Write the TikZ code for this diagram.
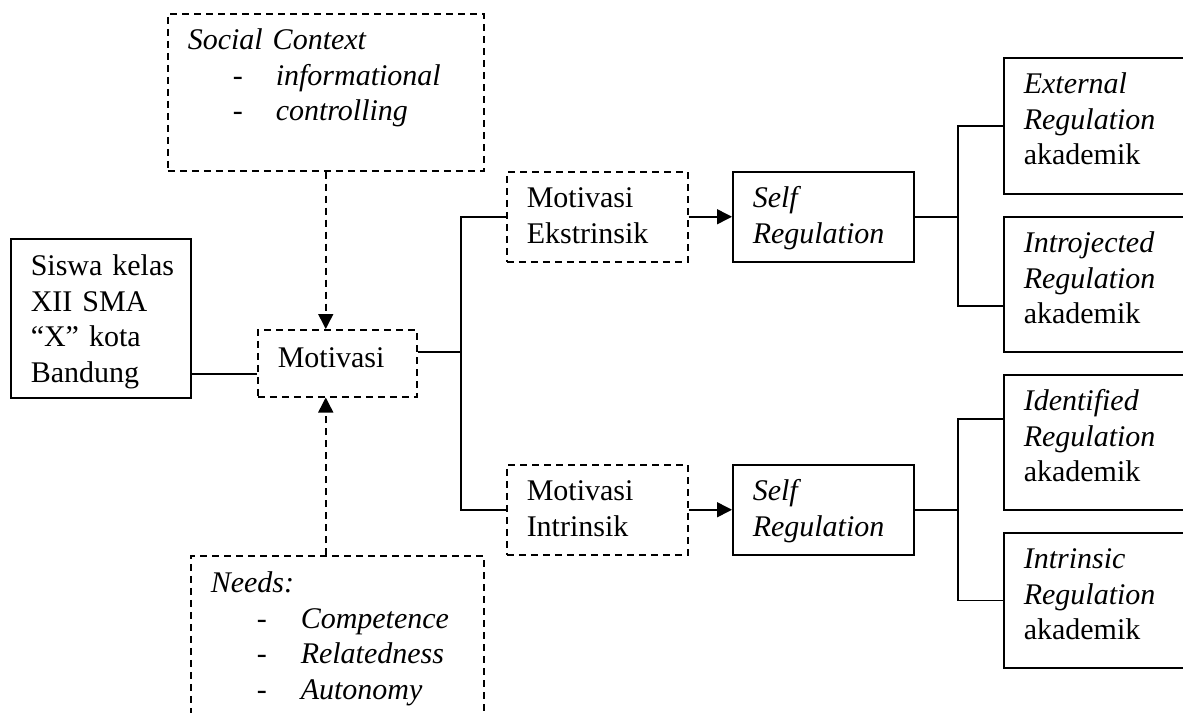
\documentclass[tikz,border=0pt]{standalone}
\usepackage{fontspec}
\setmainfont{Liberation Serif}
\usetikzlibrary{arrows.meta}
\begin{document}
\begin{tikzpicture}[x=1pt,y=-1pt, line width=1.5pt,
  bx/.style={draw, rectangle, anchor=north west, inner xsep=20pt, inner ysep=0pt,
    align=left, text height=36pt, font=\fontsize{30}{35.5}\selectfont},
  dl/.style={dash pattern=on 7pt off 5pt},
  dbx/.style={bx, dl},
  tip/.style={-{Triangle[length=15pt,width=15pt]}}
]
\clip (0,0) rectangle (1183,712);
% nodes
\node[dbx, text width=276pt, text depth=121pt] (soc) at (167,13)
  {\mbox{\textit{Social Context}}\\
   \makebox[88pt][l]{\hspace*{45pt}-}\textit{informational}\\
   \makebox[88pt][l]{\hspace*{45pt}-}\textit{controlling}};
\node[dbx, text width=253pt, text depth=149pt, text height=37pt] (needs) at (190,555)
  {\textit{Needs:}\\
   \makebox[90pt][l]{\hspace*{46pt}-}\textit{Competence}\\
   \makebox[90pt][l]{\hspace*{46pt}-}\textit{Relatedness}\\
   \makebox[90pt][l]{\hspace*{46pt}-}\textit{Autonomy}};
\node[bx, text width=140pt, text depth=122pt, text height=37pt] (siswa) at (10,238)
  {\mbox{Siswa kelas}\\ \mbox{XII SMA}\\ \mbox{“X” kota}\\ \mbox{Bandung}};
\node[dbx, text width=119pt, text depth=29pt, text height=38pt] (moti) at (257,329) {\mbox{Motivasi}};
\node[dbx, text width=141pt, text depth=54pt] (me) at (506,171) {\mbox{Motivasi}\\ \mbox{Ekstrinsik}};
\node[dbx, text width=141pt, text depth=54pt] (mi) at (506,464) {\mbox{Motivasi}\\ \mbox{Intrinsik}};
\node[bx, text width=141pt, text depth=54pt] (sr1) at (732,171) {\textit{Self}\\ \mbox{\textit{Regulation}}};
\node[bx, text width=141pt, text depth=54pt] (sr2) at (732,464) {\textit{Self}\\ \mbox{\textit{Regulation}}};
\node[bx, text width=152pt, text depth=100pt] (ext) at (1003,57)
  {\mbox{\textit{External}}\\ \mbox{\textit{Regulation}}\\ \mbox{akademik}};
\node[bx, text width=152pt, text depth=99pt] (intro) at (1003,216)
  {\mbox{\textit{Introjected}}\\ \mbox{\textit{Regulation}}\\ \mbox{akademik}};
\node[bx, text width=152pt, text depth=99pt] (ident) at (1003,374)
  {\mbox{\textit{Identified}}\\ \mbox{\textit{Regulation}}\\ \mbox{akademik}};
\node[bx, text width=152pt, text depth=99pt] (intr) at (1003,532)
  {\mbox{\textit{Intrinsic}}\\ \mbox{\textit{Regulation}}\\ \mbox{akademik}};
% helper coordinates
\coordinate (ly) at (0,374);
\coordinate (j1) at (461,352);
\coordinate (j2) at (958,216);
\coordinate (j3) at (958,509);
\coordinate (introin) at (1003,306);
\coordinate (identin) at (1003,419);
% connectors
\draw[dl, tip] (soc.south) -- (moti.north -| soc.south);
\draw[dl, tip] (needs.north -| soc.south) -- (moti.south -| soc.south);
\draw (siswa.east |- ly) -- (moti.west |- ly);
\draw (moti.east |- j1) -- (j1);
\draw (me.west) -| (j1) |- (mi.west);
\draw[tip] (me.east) -- (sr1.west);
\draw[tip] (mi.east) -- (sr2.west);
\draw (sr1.east) -- (sr1.east -| j2);
\draw (ext.west) -| (j2) |- (introin);
\draw (sr2.east) -- (sr2.east -| j3);
\draw (identin) -| (j3) |- (intr.west);
\end{tikzpicture}
\end{document}
